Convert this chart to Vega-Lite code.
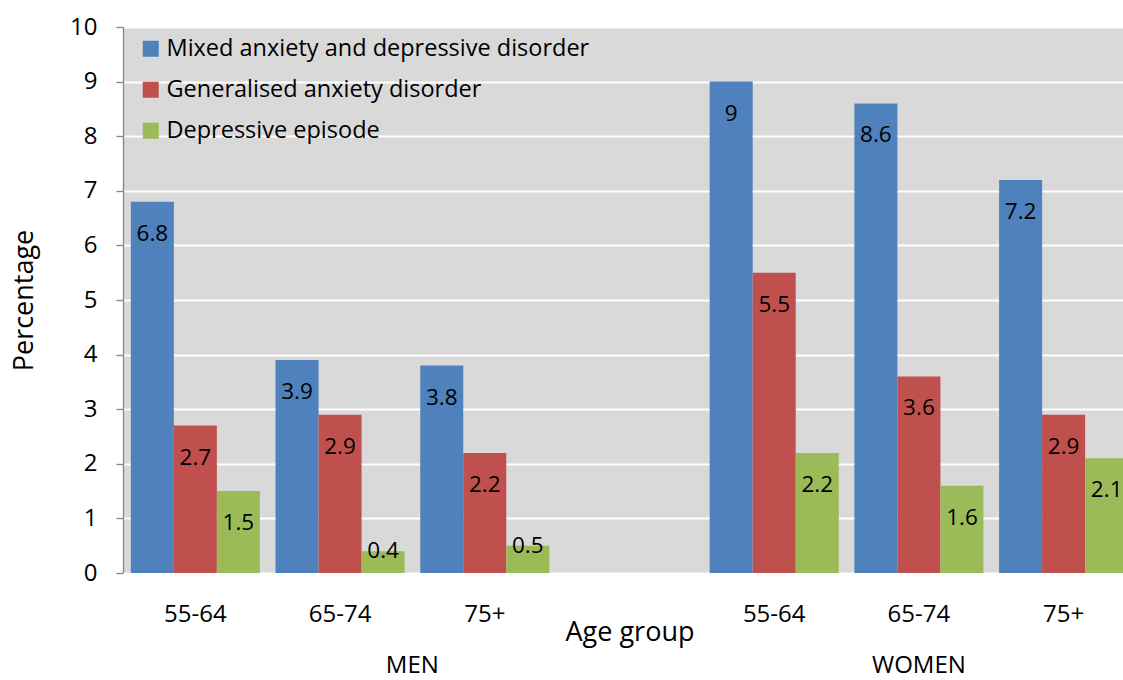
{
  "$schema": "https://vega.github.io/schema/vega-lite/v6.json",
  "width": 1000,
  "height": 546,
  "autosize": {"type": "none"},
  "padding": {"left": 123, "top": 27, "right": 0, "bottom": 107},
  "background": "white",
  "config": {
    "font": "Open Sans",
    "view": {"fill": "#D9D9D9", "stroke": null}
  },
  "datasets": {
    "bars": [
      {"group": "MEN", "cat": "M|55-64", "series": "Mixed anxiety and  depressive disorder", "value": 6.8},
      {"group": "MEN", "cat": "M|55-64", "series": "Generalised anxiety disorder", "value": 2.7},
      {"group": "MEN", "cat": "M|55-64", "series": "Depressive episode", "value": 1.5},
      {"group": "MEN", "cat": "M|65-74", "series": "Mixed anxiety and  depressive disorder", "value": 3.9},
      {"group": "MEN", "cat": "M|65-74", "series": "Generalised anxiety disorder", "value": 2.9},
      {"group": "MEN", "cat": "M|65-74", "series": "Depressive episode", "value": 0.4},
      {"group": "MEN", "cat": "M|75+", "series": "Mixed anxiety and  depressive disorder", "value": 3.8},
      {"group": "MEN", "cat": "M|75+", "series": "Generalised anxiety disorder", "value": 2.2},
      {"group": "MEN", "cat": "M|75+", "series": "Depressive episode", "value": 0.5},
      {"group": "WOMEN", "cat": "W|55-64", "series": "Mixed anxiety and  depressive disorder", "value": 9},
      {"group": "WOMEN", "cat": "W|55-64", "series": "Generalised anxiety disorder", "value": 5.5},
      {"group": "WOMEN", "cat": "W|55-64", "series": "Depressive episode", "value": 2.2},
      {"group": "WOMEN", "cat": "W|65-74", "series": "Mixed anxiety and  depressive disorder", "value": 8.6},
      {"group": "WOMEN", "cat": "W|65-74", "series": "Generalised anxiety disorder", "value": 3.6},
      {"group": "WOMEN", "cat": "W|65-74", "series": "Depressive episode", "value": 1.6},
      {"group": "WOMEN", "cat": "W|75+", "series": "Mixed anxiety and  depressive disorder", "value": 7.2},
      {"group": "WOMEN", "cat": "W|75+", "series": "Generalised anxiety disorder", "value": 2.9},
      {"group": "WOMEN", "cat": "W|75+", "series": "Depressive episode", "value": 2.1}
    ]
  },
  "encoding": {
    "x": {
      "field": "cat",
      "type": "nominal",
      "scale": {
        "domain": ["M|55-64", "M|65-74", "M|75+", "M|", "W|55-64", "W|65-74", "W|75+"],
        "range": [0, 1013],
        "paddingInner": 0.108,
        "paddingOuter": 0.054
      },
      "axis": {
        "title": "Age group",
        "titleFontSize": 27,
        "titleFontWeight": "normal",
        "titleColor": "black",
        "titlePadding": -7,
        "labelExpr": "split(datum.label, '|')[1]",
        "labelAngle": 0,
        "labelFontSize": 24,
        "labelColor": "black",
        "labelPadding": 29,
        "ticks": false,
        "tickSize": 0,
        "domain": false,
        "grid": false
      }
    },
    "y": {
      "field": "value",
      "type": "quantitative",
      "scale": {"domain": [0, 10], "nice": false},
      "axis": {
        "title": "Percentage",
        "titleFontSize": 27,
        "titleFontWeight": "normal",
        "titleColor": "black",
        "titlePadding": 31,
        "values": [0, 1, 2, 3, 4, 5, 6, 7, 8, 9, 10],
        "labelFontSize": 24,
        "labelColor": "black",
        "labelPadding": 19,
        "tickSize": 7,
        "tickColor": "#868686",
        "tickWidth": 1.3,
        "domainColor": "#868686",
        "domainWidth": 1.3,
        "grid": true,
        "gridColor": "white",
        "gridWidth": 2
      }
    }
  },
  "layer": [
    {
      "data": {"name": "bars"},
      "mark": {"type": "bar", "clip": true},
      "encoding": {
        "xOffset": {
          "field": "series",
          "type": "nominal",
          "sort": ["Mixed anxiety and  depressive disorder", "Generalised anxiety disorder", "Depressive episode"],
          "scale": {"paddingInner": 0, "paddingOuter": 0}
        },
        "color": {
          "field": "series",
          "type": "nominal",
          "scale": {
            "domain": ["Mixed anxiety and  depressive disorder", "Generalised anxiety disorder", "Depressive episode"],
            "range": ["#4F81BD", "#C0504D", "#9BBB59"]
          },
          "legend": {
            "title": null,
            "orient": "none",
            "legendX": 16,
            "legendY": 10,
            "padding": 0,
            "symbolType": "square",
            "symbolSize": 256,
            "symbolStrokeWidth": 0,
            "symbolOpacity": 1,
            "labelFontSize": 23.5,
            "labelColor": "black",
            "labelOffset": 4,
            "rowPadding": 16,
            "labelLimit": 600
          }
        }
      }
    },
    {
      "data": {"name": "bars"},
      "transform": [{"filter": "datum.value >= 1"}],
      "mark": {"type": "text", "baseline": "middle", "align": "center", "dy": 32, "fontSize": 22.5, "color": "black"},
      "encoding": {
        "xOffset": {
          "field": "series",
          "type": "nominal",
          "sort": ["Mixed anxiety and  depressive disorder", "Generalised anxiety disorder", "Depressive episode"],
          "scale": {"paddingInner": 0, "paddingOuter": 0}
        },
        "text": {"field": "value", "type": "quantitative"}
      }
    },
    {
      "data": {"name": "bars"},
      "transform": [{"filter": "datum.value < 1"}],
      "mark": {"type": "text", "baseline": "middle", "align": "center", "dy": 0, "fontSize": 22.5, "color": "black"},
      "encoding": {
        "xOffset": {
          "field": "series",
          "type": "nominal",
          "sort": ["Mixed anxiety and  depressive disorder", "Generalised anxiety disorder", "Depressive episode"],
          "scale": {"paddingInner": 0, "paddingOuter": 0}
        },
        "text": {"field": "value", "type": "quantitative"}
      }
    },
    {
      "data": {"name": "bars"},
      "transform": [{"filter": "datum.cat == 'M|65-74' && datum.series == 'Generalised anxiety disorder'"}],
      "mark": {"type": "text", "baseline": "alphabetic", "align": "center", "fontSize": 24, "color": "black", "dy": 100},
      "encoding": {
        "x": {"field": "cat", "type": "nominal", "bandPosition": 1.06},
        "y": {"datum": 0},
        "text": {"field": "group", "type": "nominal"}
      }
    },
    {
      "data": {"name": "bars"},
      "transform": [{"filter": "datum.cat == 'W|65-74' && datum.series == 'Generalised anxiety disorder'"}],
      "mark": {"type": "text", "baseline": "alphabetic", "align": "center", "fontSize": 24, "color": "black", "dy": 100},
      "encoding": {
        "x": {"field": "cat", "type": "nominal"},
        "y": {"datum": 0},
        "text": {"field": "group", "type": "nominal"}
      }
    }
  ]
}
